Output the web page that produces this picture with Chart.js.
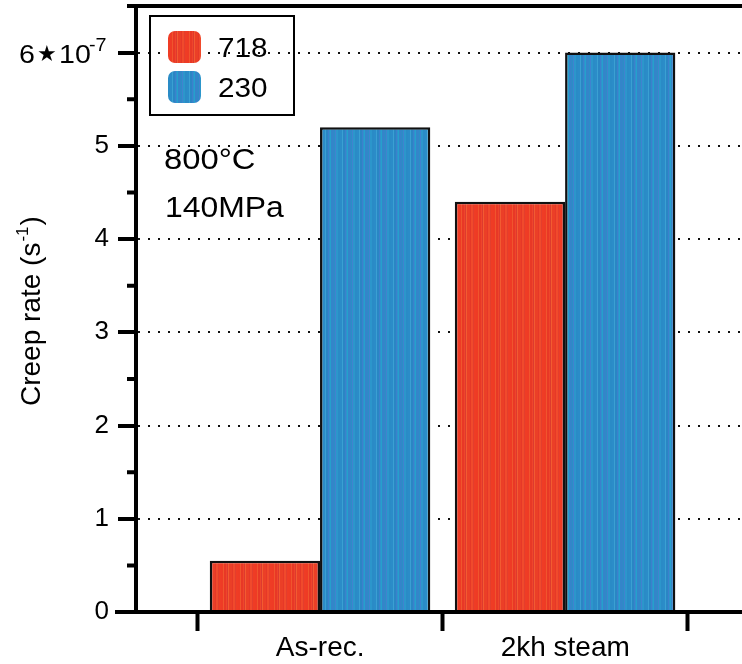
<!DOCTYPE html>
<html>
<head>
<meta charset="utf-8">
<script src="https://cdn.jsdelivr.net/npm/chart.js@4/dist/chart.umd.min.js"></script>
<style>
  html, body { margin: 0; padding: 0; background: #fff; }
  #chart { display: block; }
</style>
</head>
<body>
<canvas id="chart" width="742" height="664"></canvas>
<script>
// data (units of 1e-7 s^-1)
const categories = ["As-rec.", "2kh steam"];
const seriesNames = ["718", "230"];
const rate718 = [0.55, 4.4];
const rate230 = [5.2, 6.0];
const yTicks = [0, 1, 2, 3, 4, 5, 6];
const yMinorTicks = [0.5, 1.5, 2.5, 3.5, 4.5, 5.5];
const xBoundaries = [-0.5, 0.5, 1.5];

const FONT = "'Liberation Sans', Arial, sans-serif";
const canvas = document.getElementById("chart");
const ctx = canvas.getContext("2d");

// vertical stripe texture like the original bars
function stripes(colors, widths) {
  let total = widths.reduce((a, b) => a + b, 0);
  let c = document.createElement("canvas");
  c.width = total;
  c.height = 4;
  let g = c.getContext("2d");
  let x = 0;
  for (let i = 0; i < colors.length; i++) {
    g.fillStyle = colors[i];
    g.fillRect(x, 0, widths[i], 4);
    x += widths[i];
  }
  return ctx.createPattern(c, "repeat");
}

const redFill = stripes(
  ["#ee3b25", "#f0552d", "#e83826", "#ef452b", "#dd3a2f", "#f25b31", "#eb3f27", "#e63828", "#f04a2c", "#e33e2d", "#ef3c25"],
  [2, 1, 2, 1, 1, 1, 3, 1, 2, 1, 2]
);
const blueFill = stripes(
  ["#2b8cc8", "#3aa0d2", "#2a86c4", "#3c80cc", "#2f92cc", "#25a0cc", "#3485c9", "#2b8ec6", "#4182cf", "#2c96cb", "#2a8bc6"],
  [2, 1, 2, 1, 1, 1, 3, 1, 1, 2, 2]
);

function toPoints(values) {
  return values.map((v, i) => ({ x: i, y: v }));
}

// the reference text looks a little wide, so stretch plugin text horizontally
function wideText(g, text, x, y, size, stretch) {
  g.save();
  g.font = size + "px " + FONT;
  g.translate(x, y);
  g.scale(stretch, 1);
  g.fillText(text, 0, 0);
  g.restore();
}

const decorations = {
  id: "decorations",
  afterDraw(chart) {
    let g = chart.ctx;
    let area = chart.chartArea;
    let y = chart.scales.y;
    g.save();
    g.strokeStyle = "#000";
    g.fillStyle = "#000";

    // axis line extensions and top frame
    g.lineWidth = 4;
    g.beginPath();
    g.moveTo(115, y.getPixelForValue(0));
    g.lineTo(area.right, y.getPixelForValue(0));
    g.moveTo(127, area.top);
    g.lineTo(area.right, area.top);
    g.stroke();

    // minor ticks on y
    g.beginPath();
    yMinorTicks.forEach((v) => {
      let py = y.getPixelForValue(v);
      g.moveTo(area.left - 9, py);
      g.lineTo(area.left, py);
    });
    g.stroke();

    // top tick label 6*10^-7
    let p6 = y.getPixelForValue(6);
    g.textBaseline = "alphabetic";
    g.textAlign = "left";
    wideText(g, "6", 19, p6 + 10, 26, 1.1);
    g.font = "22px 'DejaVu Sans', sans-serif";
    g.fillText("\u2605", 37, p6 + 8);
    wideText(g, "10", 59, p6 + 10, 26, 1.1);
    wideText(g, "-7", 89, p6 - 2, 18, 1.1);

    // y axis title
    g.save();
    g.translate(40, 406);
    g.rotate(-Math.PI / 2);
    g.font = "28px " + FONT;
    g.fillText("Creep rate (s", 0, 0);
    let w = g.measureText("Creep rate (s").width;
    g.font = "17px " + FONT;
    g.fillText("-1", w + 1, -12);
    let w2 = g.measureText("-1").width;
    g.font = "28px " + FONT;
    g.fillText(")", w + w2 + 2, 0);
    g.restore();

    // legend
    g.lineWidth = 2;
    g.strokeRect(150, 16, 144, 99);
    let fills = [redFill, blueFill];
    let tops = [31, 71];
    for (let i = 0; i < seriesNames.length; i++) {
      g.fillStyle = fills[i];
      g.beginPath();
      g.roundRect(168, tops[i], 33, 32, 7);
      g.fill();
      g.fillStyle = "#000";
      wideText(g, seriesNames[i], 218, tops[i] + 26, 27, 1.1);
    }

    // condition text
    wideText(g, "800\u00b0C", 164, 169, 29, 1.13);
    wideText(g, "140MPa", 165, 217, 29, 1.1);
    g.restore();
  },
};

function noPadding(s) {
  s.paddingTop = 0;
  s.paddingBottom = 0;
  s.paddingLeft = 0;
  s.paddingRight = 0;
}

new Chart(ctx, {
  type: "bar",
  data: {
    datasets: [
      {
        label: seriesNames[0],
        data: toPoints(rate718),
        backgroundColor: redFill,
        borderColor: "#111",
        borderWidth: 2.5,
        categoryPercentage: 0.9,
        barPercentage: 1.0,
      },
      {
        label: seriesNames[1],
        data: toPoints(rate230),
        backgroundColor: blueFill,
        borderColor: "#111",
        borderWidth: 2.5,
        categoryPercentage: 0.9,
        barPercentage: 1.0,
      },
    ],
  },
  options: {
    responsive: false,
    animation: false,
    layout: { padding: { top: 6, right: 0, bottom: 0, left: 0 } },
    plugins: {
      legend: { display: false },
      tooltip: { enabled: false },
    },
    scales: {
      x: {
        type: "linear",
        offset: false,
        min: -0.751,
        max: 1.722,
        afterBuildTicks: (s) => {
          s.ticks = xBoundaries.map((v) => ({ value: v }));
        },
        afterFit: (s) => {
          s.height = 52;
          noPadding(s);
        },
        ticks: {
          autoSkip: false,
          maxRotation: 0,
          labelOffset: 122.7,
          padding: 0,
          color: "#000",
          font: { size: 28, family: FONT },
          callback: (v, i) => categories[i] || "",
        },
        grid: {
          offset: false,
          drawOnChartArea: false,
          tickLength: 19,
          tickWidth: 4,
          tickColor: "#000",
        },
        border: { color: "#000", width: 4 },
      },
      y: {
        min: 0,
        max: 6.5,
        afterBuildTicks: (s) => {
          s.ticks = yTicks.map((v) => ({ value: v }));
        },
        afterFit: (s) => {
          s.width = 136;
          noPadding(s);
        },
        ticks: {
          padding: 9,
          color: "#000",
          font: { size: 26, family: FONT },
          callback: (v) => (v === 6 ? "" : String(v)),
        },
        grid: {
          color: (c) => (c.tick && c.tick.value > 0 ? "#111" : "rgba(0,0,0,0)"),
          lineWidth: 2,
          tickLength: 18,
          tickWidth: 4,
          tickColor: "#000",
        },
        border: { color: "#000", width: 4, dash: [2, 8] },
      },
    },
  },
  plugins: [decorations],
});
</script>
</body>
</html>
